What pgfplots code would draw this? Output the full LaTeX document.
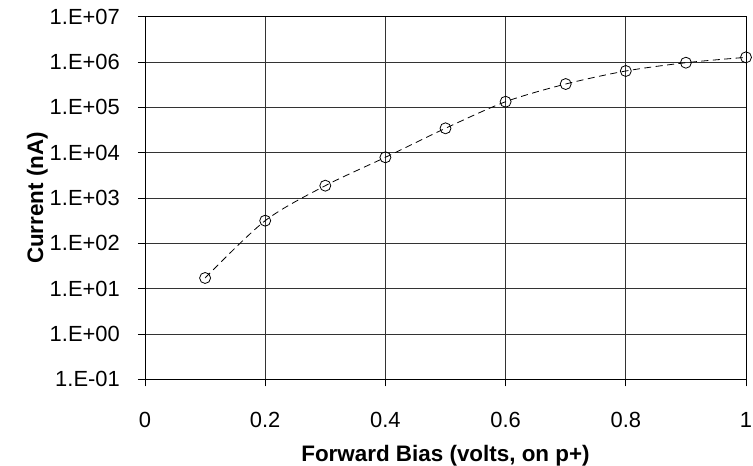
\documentclass[border=0pt]{standalone}
\usepackage{fontspec}
\setmainfont{Liberation Sans}
\usepackage{pgfplots}
\pgfplotsset{compat=1.18}
\begin{document}
\begin{tikzpicture}
\path[use as bounding box] (-145bp,-86.7bp) rectangle (608bp,379.3bp);
\begin{axis}[
  at={(0,0)}, anchor=south west,
  scale only axis, width=601bp, height=362.6bp,
  xmin=0, xmax=1, ymode=log, ymin=0.1, ymax=1e7,
  xtick={0,0.2,0.4,0.6,0.8,1},
  xticklabels={\mbox{0},\mbox{0.2},\mbox{0.4},\mbox{0.6},\mbox{0.8},\mbox{1}},
  ytick={1e-1,1e0,1e1,1e2,1e3,1e4,1e5,1e6,1e7},
  yticklabels={\mbox{1.E-01},\mbox{1.E+00},\mbox{1.E+01},\mbox{1.E+02},\mbox{1.E+03},\mbox{1.E+04},\mbox{1.E+05},\mbox{1.E+06},\mbox{1.E+07}},
  minor ytick={}, yminorticks=false,
  /pgf/number format/assume math mode=true,
  tick align=outside, major tick length=7bp,
  xtick pos=bottom, ytick pos=left,
  tick style={black, line width=0.8bp},
  grid=major,
  major grid style={black!80, line width=0.8bp},
  axis line style={black, line width=0.8bp},
  ticklabel style={font=\fontsize{22}{26}\selectfont, inner sep=0pt},
  xticklabel style={anchor=base, yshift=-40.7bp},
  yticklabel style={anchor=east, xshift=-18bp},
  xlabel={Forward Bias (volts, on p+)},
  ylabel={Current (nA)},
  label style={font=\fontsize{22.5}{26}\selectfont\bfseries, inner sep=0pt},
  xlabel style={at={(axis description cs:0.5,-0.2261)}, anchor=base},
  ylabel style={at={(axis description cs:-0.1697,0.5)}, anchor=base},
  clip=false,
]
\addplot[black, line width=0.8bp, dash pattern=on 7bp off 4.5bp, smooth,
  mark=o, mark size=5.5bp, mark options={solid, fill=none, line width=0.8bp}]
  coordinates {
  (0.1,17.2) (0.2,316) (0.3,1870) (0.4,7900) (0.5,34500)
  (0.6,133000) (0.7,327000) (0.8,634000) (0.9,966000) (1.0,1270000)
  };
\end{axis}
\end{tikzpicture}
\end{document}
